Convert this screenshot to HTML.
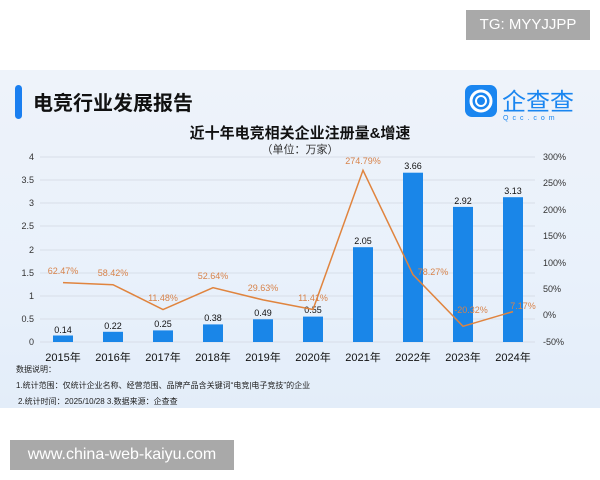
<!DOCTYPE html>
<html><head><meta charset="utf-8"><style>
body{margin:0;width:600px;height:480px;background:#fff;position:relative;overflow:hidden;font-family:"Liberation Sans","Noto Sans CJK SC",sans-serif}
</style></head><body>
<div style="position:absolute;left:466px;top:10px;width:124px;height:30px;background:#a9a9a9;color:#fff;font-size:15px;line-height:30px;text-align:center">TG: MYYJJPP</div>
<div style="position:absolute;left:0;top:70px;width:600px;height:338px;background:linear-gradient(180deg,#eef3fa 0%,#e9f1fb 60%,#e3edf9 100%)"></div>
<div style="position:absolute;left:10px;top:440px;width:224px;height:30px;background:#a9a9a9;color:#fff;font-size:16px;line-height:30px;text-align:center">www.china-web-kaiyu.com</div>
<svg width="600" height="480" style="position:absolute;left:0;top:0" font-family="Liberation Sans,Noto Sans CJK SC,sans-serif">
<rect x="15" y="85" width="7" height="34" rx="3.5" fill="#1a7ff0"/>
<text x="33" y="110" font-size="20" font-weight="bold" fill="#111">电竞行业发展报告</text>
<rect x="465" y="85" width="32" height="32" rx="7" fill="#1a86f0"/>
<circle cx="481" cy="101" r="10" fill="none" stroke="#fff" stroke-width="3"/>
<circle cx="481" cy="101" r="5" fill="none" stroke="#fff" stroke-width="2"/>
<text x="502" y="110" font-size="24" fill="#1a86f0">企查查</text>
<text x="503" y="120" font-size="7" fill="#1a86f0" letter-spacing="4">Qcc.com</text>
<text x="300" y="138" font-size="15" font-weight="bold" text-anchor="middle" fill="#111">近十年电竞相关企业注册量&amp;增速</text>
<text x="300" y="153" font-size="11" text-anchor="middle" fill="#333">（单位：万家）</text>
<g stroke="#d8dee8" stroke-width="1">
<line x1="40" y1="157" x2="535" y2="157"/><line x1="40" y1="180" x2="535" y2="180"/><line x1="40" y1="203" x2="535" y2="203"/><line x1="40" y1="226" x2="535" y2="226"/><line x1="40" y1="250" x2="535" y2="250"/><line x1="40" y1="273" x2="535" y2="273"/><line x1="40" y1="296" x2="535" y2="296"/><line x1="40" y1="319" x2="535" y2="319"/><line x1="40" y1="342" x2="535" y2="342"/>
</g>
<g font-size="9" fill="#333" text-anchor="end">
<text x="34" y="160">4</text><text x="34" y="183">3.5</text><text x="34" y="206">3</text><text x="34" y="229">2.5</text><text x="34" y="253">2</text><text x="34" y="276">1.5</text><text x="34" y="299">1</text><text x="34" y="322">0.5</text><text x="34" y="345">0</text>
</g>
<g font-size="9" fill="#333">
<text x="543" y="160">300%</text><text x="543" y="186">250%</text><text x="543" y="213">200%</text><text x="543" y="239">150%</text><text x="543" y="266">100%</text><text x="543" y="292">50%</text><text x="543" y="318">0%</text><text x="543" y="345">-50%</text>
</g>
<g fill="#1a86e8">
<rect x="53" y="335.5" width="20" height="6.5"/><rect x="103" y="331.8" width="20" height="10.2"/><rect x="153" y="330.4" width="20" height="11.6"/><rect x="203" y="324.4" width="20" height="17.6"/><rect x="253" y="319.3" width="20" height="22.7"/><rect x="303" y="316.6" width="20" height="25.4"/><rect x="353" y="247.2" width="20" height="94.8"/><rect x="403" y="172.7" width="20" height="169.3"/><rect x="453" y="206.9" width="20" height="135.1"/><rect x="503" y="197.2" width="20" height="144.8"/>
</g>
<g font-size="9" fill="#111" text-anchor="middle">
<text x="63" y="333">0.14</text><text x="113" y="329">0.22</text><text x="163" y="327">0.25</text><text x="213" y="321">0.38</text><text x="263" y="316">0.49</text><text x="313" y="313">0.55</text><text x="363" y="244">2.05</text><text x="413" y="169">3.66</text><text x="463" y="204">2.92</text><text x="513" y="194">3.13</text>
</g>
<polyline fill="none" stroke="#e0843e" stroke-width="1.5" points="63,282.6 113,284.7 163,309.5 213,287.7 263,299.9 313,309.5 363,170.3 413,274.7 463,326.3 513,311.6"/>
<g font-size="9" fill="#d8834a" text-anchor="middle">
<text x="63" y="274">62.47%</text><text x="113" y="276">58.42%</text><text x="163" y="301">11.48%</text><text x="213" y="279">52.64%</text><text x="263" y="291">29.63%</text><text x="313" y="301">11.41%</text><text x="363" y="164">274.79%</text><text x="433" y="275">78.27%</text><text x="471" y="313">-20.32%</text><text x="523" y="309">7.17%</text>
</g>
<g font-size="11" fill="#111" text-anchor="middle">
<text x="63" y="361">2015年</text><text x="113" y="361">2016年</text><text x="163" y="361">2017年</text><text x="213" y="361">2018年</text><text x="263" y="361">2019年</text><text x="313" y="361">2020年</text><text x="363" y="361">2021年</text><text x="413" y="361">2022年</text><text x="463" y="361">2023年</text><text x="513" y="361">2024年</text>
</g>
<g font-size="8" fill="#222">
<text x="16" y="372">数据说明：</text>
<text x="16" y="388">1.统计范围：仅统计企业名称、经营范围、品牌产品含关键词“电竞|电子竞技”的企业</text>
<text x="18" y="404">2.统计时间：2025/10/28 3.数据来源：企查查</text>
</g>
</svg>
</body></html>
